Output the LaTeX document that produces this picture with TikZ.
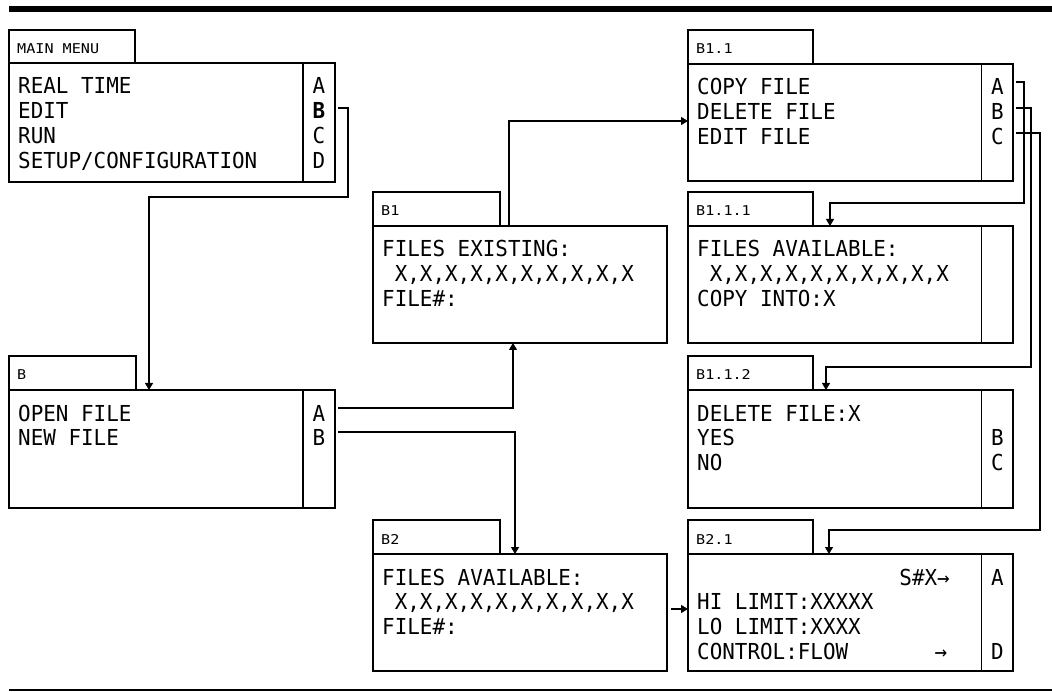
\documentclass[tikz,border=0pt]{standalone}
\usepackage{fontspec}
\usetikzlibrary{arrows.meta,calc}
\newfontfamily\lcd[FakeStretch=0.95]{DejaVu Sans Mono}
\newfontfamily\lcdl[FakeStretch=1.12]{DejaVu Sans Mono}
\tikzset{
  frame/.style={draw, line width=1.2pt, inner sep=0pt, outer sep=0pt, anchor=north west},
  txt/.style={anchor=base west, inner sep=0pt, font=\lcd\fontsize{22}{24}\selectfont},
  let/.style={anchor=base, inner sep=0pt, font=\lcd\fontsize{22}{24}\selectfont},
  lbl/.style={anchor=base west, inner sep=0pt, font=\lcdl\fontsize{13.5}{15}\selectfont},
  conn/.style={line width=1.1pt},
  arr/.style={conn, -{Triangle[length=7pt,width=8pt]}},
  divl/.style={line width=1.2pt}
}
\begin{document}
\begin{tikzpicture}[x=1pt,y=-1pt]
\useasboundingbox (0,0) rectangle (1052,692);
% rules
\fill (9,6) rectangle (1052,12);
\draw[line width=1.3pt] (9,690) -- (1052,690);

% ---------- MAIN MENU ----------
\node[frame, minimum width=126pt, minimum height=33pt] (mmt) at (9,30) {};
\node[lbl] (mml) at (17,54) {MAIN MENU};
\node[frame, minimum width=326pt, minimum height=119pt] (mm) at (9,63) {};
\draw[divl] ($(mm.north east)+(-32,0)$) -- ($(mm.south east)+(-32,0)$);
\node[txt] (mm1) at (18,94) {REAL TIME};
\node[txt] (mm2) at (18,118.7) {EDIT};
\node[txt] (mm3) at (18,143.4) {RUN};
\node[txt] (mm4) at (18,168.1) {SETUP/CONFIGURATION};
\node[let] (mmA) at (319,94) {A};
\node[let] (mmBl) at (319,118.7) {\bfseries B};
\node[let] (mmC) at (319,143.4) {C};
\node[let] (mmD) at (319,168.1) {D};

% ---------- B ----------
\node[frame, minimum width=127pt, minimum height=34pt] (bbt) at (9,356) {};
\node[lbl] (bbl) at (17,380) {B};
\node[frame, minimum width=326pt, minimum height=118pt] (bb) at (9,390) {};
\draw[divl] ($(bb.north east)+(-32,0)$) -- ($(bb.south east)+(-32,0)$);
\node[txt] (bb1) at (18,421) {OPEN FILE};
\node[txt] (bb2) at (18,445.7) {NEW FILE};
\node[let] (bbAl) at (319,421) {A};
\node[let] (bbBl) at (319,445.7) {B};

% ---------- B1 ----------
\node[frame, minimum width=127pt, minimum height=34pt] (b1t) at (373,192) {};
\node[lbl] (b1l) at (381,216) {B1};
\node[frame, minimum width=294pt, minimum height=117pt] (b1) at (373,226) {};
\node[txt] (b11x) at (382,257) {FILES EXISTING:};
\node[txt] (b12x) at (394.6,281.7) {X,X,X,X,X,X,X,X,X,X};
\node[txt] (b13x) at (382,306.4) {FILE\#:};

% ---------- B2 ----------
\node[frame, minimum width=127pt, minimum height=34pt] (b2t) at (373,520) {};
\node[lbl] (b2l) at (381,544) {B2};
\node[frame, minimum width=294pt, minimum height=117pt] (b2) at (373,554) {};
\node[txt] (b21x) at (382,585) {FILES AVAILABLE:};
\node[txt] (b22x) at (394.6,609.7) {X,X,X,X,X,X,X,X,X,X};
\node[txt] (b23x) at (382,634.4) {FILE\#:};

% ---------- B1.1 ----------
\node[frame, minimum width=125pt, minimum height=34pt] (b11t) at (688,30) {};
\node[lbl] (b11l) at (696,54) {B1.1};
\node[frame, minimum width=325pt, minimum height=117pt] (b11) at (688,64) {};
\draw[divl] ($(b11.north east)+(-31.5,0)$) -- ($(b11.south east)+(-31.5,0)$);
\node[txt] (c11) at (697,95) {COPY FILE};
\node[txt] (c12) at (697,119.7) {DELETE FILE};
\node[txt] (c13) at (697,144.4) {EDIT FILE};
\node[let] (c1A) at (997.5,95) {A};
\node[let] (c1B) at (997.5,119.7) {B};
\node[let] (c1C) at (997.5,144.4) {C};

% ---------- B1.1.1 ----------
\node[frame, minimum width=125pt, minimum height=34pt] (b111t) at (688,192) {};
\node[lbl] (b111l) at (696,216) {B1.1.1};
\node[frame, minimum width=325pt, minimum height=117pt] (b111) at (688,226) {};
\draw[divl] ($(b111.north east)+(-31.5,0)$) -- ($(b111.south east)+(-31.5,0)$);
\node[txt] (c21) at (697,257) {FILES AVAILABLE:};
\node[txt] (c22) at (709.6,281.7) {X,X,X,X,X,X,X,X,X,X};
\node[txt] (c23) at (697,306.4) {COPY INTO:X};

% ---------- B1.1.2 ----------
\node[frame, minimum width=125pt, minimum height=34pt] (b112t) at (688,356) {};
\node[lbl] (b112l) at (696,380) {B1.1.2};
\node[frame, minimum width=325pt, minimum height=118pt] (b112) at (688,390) {};
\draw[divl] ($(b112.north east)+(-31.5,0)$) -- ($(b112.south east)+(-31.5,0)$);
\node[txt] (c31) at (697,421) {DELETE FILE:X};
\node[txt] (c32) at (697,445.7) {YES};
\node[txt] (c33) at (697,470.4) {NO};
\node[let] (c3B) at (997.5,445.7) {B};
\node[let] (c3C) at (997.5,470.4) {C};

% ---------- B2.1 ----------
\node[frame, minimum width=125pt, minimum height=34pt] (b21t) at (688,520) {};
\node[lbl] (b21l) at (696,544) {B2.1};
\node[frame, minimum width=325pt, minimum height=117pt] (b21) at (688,554) {};
\draw[divl] ($(b21.north east)+(-31.5,0)$) -- ($(b21.south east)+(-31.5,0)$);
\node[anchor=base east, inner sep=0pt, font=\lcd\fontsize{22}{24}\selectfont] (c40) at (950,585) {S\#X→};
\node[txt] (c41) at (697,609.7) {HI LIMIT:XXXXX};
\node[txt] (c42) at (697,634.4) {LO LIMIT:XXXX};
\node[txt] (c43) at (697,659) {CONTROL:FLOW};
\node[let] (c4ar) at (941,659) {→};
\node[let] (c4A) at (997.5,585) {A};
\node[let] (c4D) at (997.5,659) {D};

% ---------- connectors ----------
\coordinate (mmB) at (338,108);
\coordinate (k1) at (149,197);
\draw[arr] (mmB) -| (348,197) -- (k1) -- (k1 |- bb.north);

\coordinate (bbA) at (338,408);
\coordinate (k2) at (513,408);
\draw[arr] (bbA) -- (k2) -- (k2 |- b1.south);

\coordinate (bbB) at (338,432);
\coordinate (k3) at (515,432);
\draw[arr] (bbB) -- (k3) -- (k3 |- b2.north);

\coordinate (k4) at (509,121);
\draw[arr] (k4 |- b1.north) -- (k4) -- (k4 -| b11.west);

\coordinate (c1a) at (1016,82);
\coordinate (k5) at (1024,203);
\coordinate (k5b) at (830,203);
\draw[arr] (c1a) -| (k5) -- (k5b) -- (k5b |- b111.north);

\coordinate (c1b) at (1016,108);
\coordinate (k6) at (1031,367);
\coordinate (k6b) at (826,367);
\draw[arr] (c1b) -| (k6) -- (k6b) -- (k6b |- b112.north);

\coordinate (c1c) at (1016,133);
\coordinate (k7) at (1040,530);
\coordinate (k7b) at (829,530);
\draw[arr] (c1c) -| (k7) -- (k7b) -- (k7b |- b21.north);

\coordinate (k8) at (671,609);
\draw[arr] (k8) -- (k8 -| b21.west);
\end{tikzpicture}
\end{document}
